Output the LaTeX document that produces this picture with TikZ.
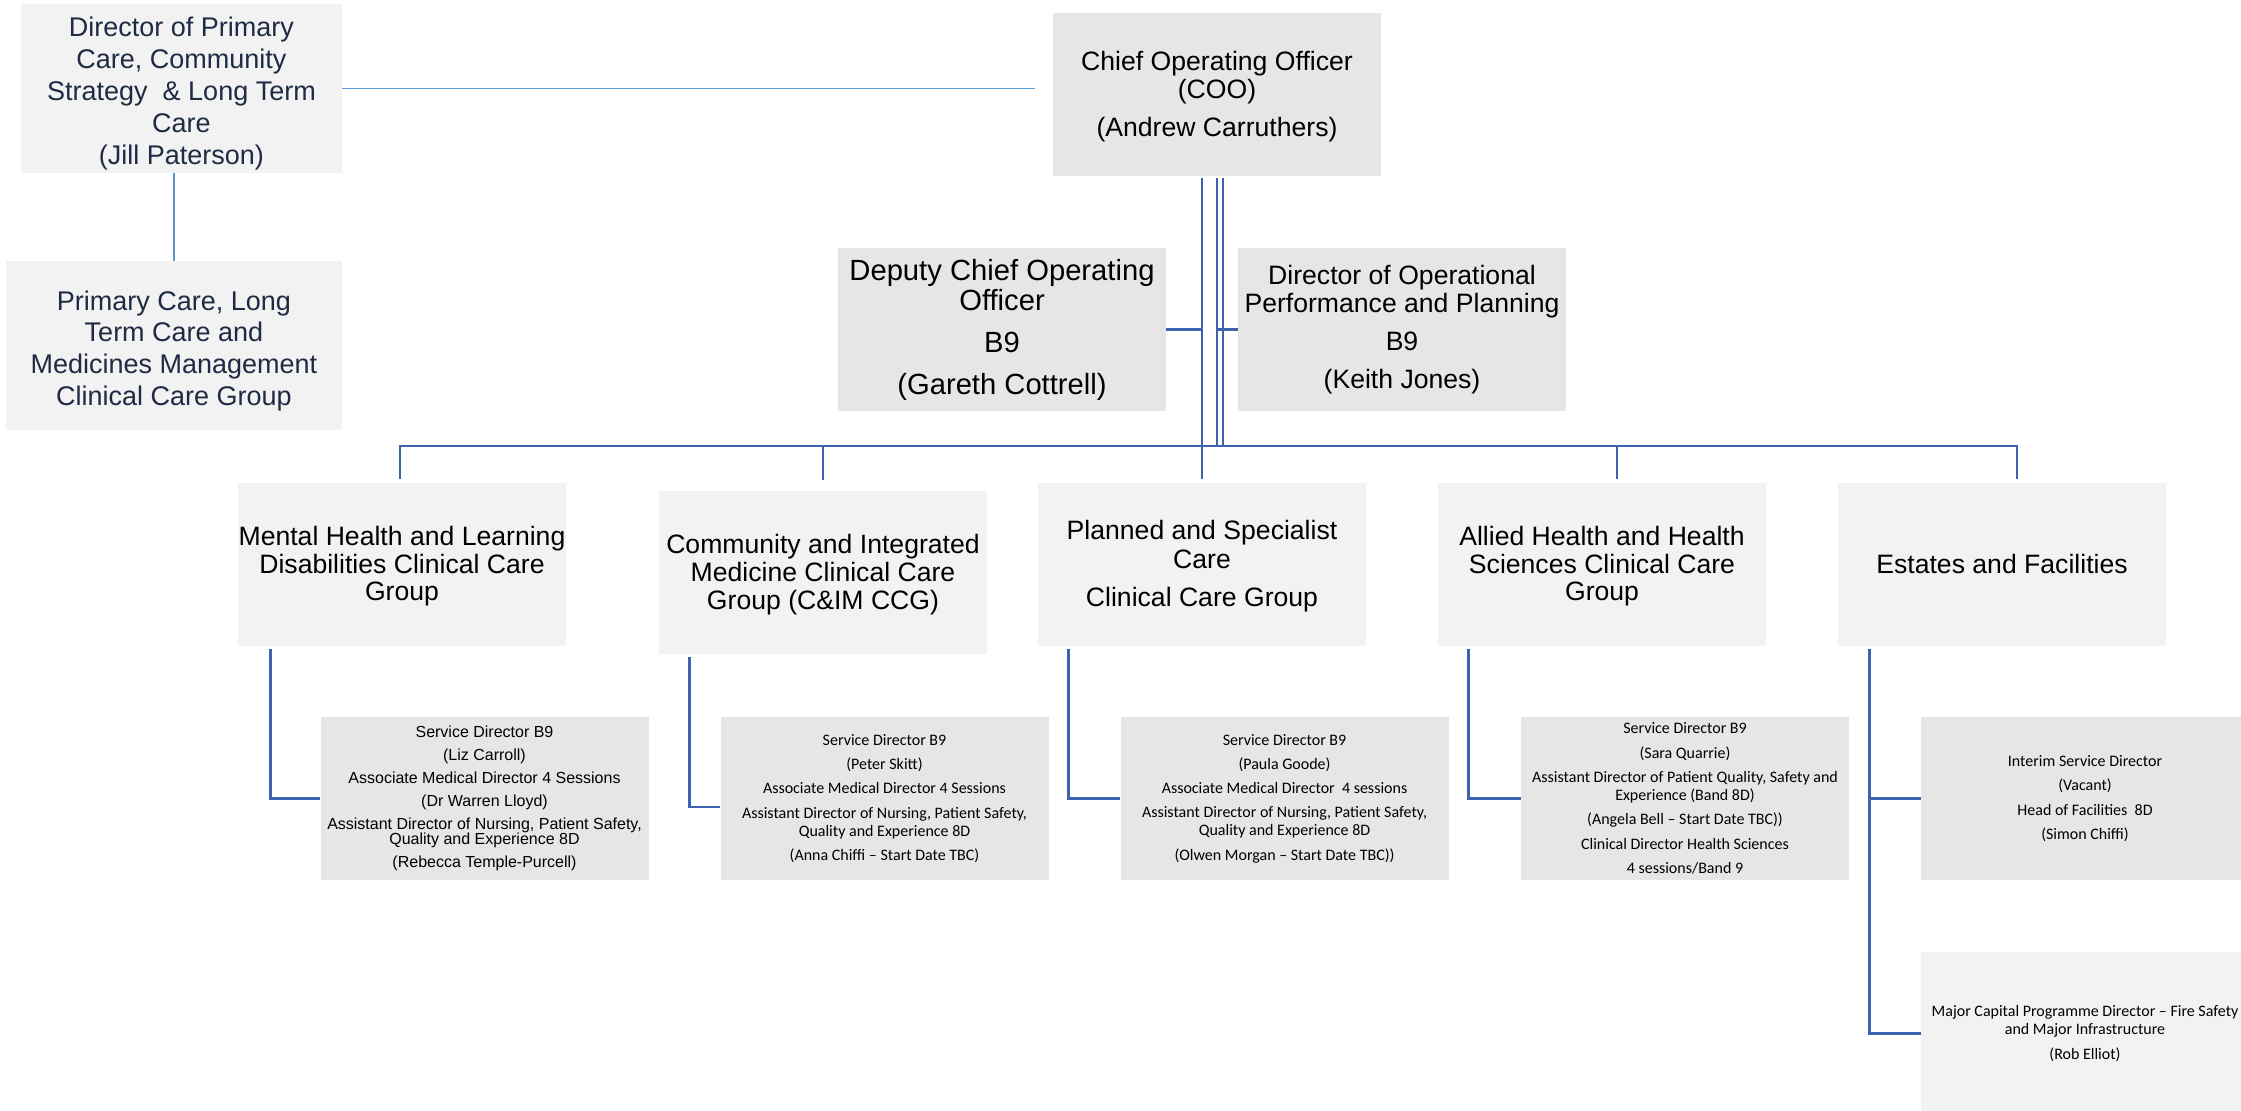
\documentclass[tikz,border=0pt]{standalone}
\usepackage{fontspec}
\setmainfont{Liberation Sans}
\newfontfamily\calib{Carlito}
\definecolor{boxlight}{HTML}{F2F2F2}
\definecolor{boxdark}{HTML}{E6E6E6}
\definecolor{linkblue}{HTML}{3D62B0}
\definecolor{thinblue}{HTML}{5B9BD5}
\definecolor{navytext}{HTML}{1F2A44}
\newcommand{\upstrut}[1]{\rule{0pt}{#1}}
\begin{document}
\begin{tikzpicture}[x=0.5pt,y=-0.5pt,
  box/.style={rectangle, inner sep=0pt, align=center, minimum width=164pt, minimum height=81.5pt},
  light/.style={box, fill=boxlight},
  dark/.style={box, fill=boxdark},
  big/.style={font=\fontsize{13.3pt}{14pt}\selectfont},
  small/.style={font=\fontsize{8pt}{7.5pt}\selectfont},
  cal/.style={font=\calib\fontsize{8pt}{9pt}\selectfont},
  conn/.style={draw=linkblue, line width=1.4pt},
  thinl/.style={draw=thinblue, line width=0.7pt}]
\clip (0,0) rectangle (2241,1110);

% top left
\node[light, minimum width=160.5pt, minimum height=84.5pt, text=navytext,
      font=\fontsize{13.5pt}{16pt}\selectfont] (dpc) at (181.5,88.5)
  {\upstrut{15pt}Director of Primary\\Care, Community\\Strategy\ \ \& Long Term\\Care\\(Jill Paterson)};
\node[light, minimum width=168pt, minimum height=84.5pt, text=navytext,
      font=\fontsize{13.5pt}{15.9pt}\selectfont] (pcg) at (174,345.5)
  {\upstrut{15pt}Primary Care, Long\\Term Care and\\Medicines Management\\Clinical Care Group};

% top
\node[dark, font=\fontsize{13.3pt}{14.2pt}\selectfont] (coo) at (1217,94.5)
  {\upstrut{11.5pt}Chief Operating Officer\\(COO)\\[4.5pt](Andrew Carruthers)};
\node[dark, font=\fontsize{14.6pt}{15pt}\selectfont] (dep) at (1002,329.5)
  {Deputy Chief Operating\\Officer\\[6pt]B9\\[6pt](Gareth Cottrell)};
\node[dark, font=\fontsize{13.3pt}{13.7pt}\selectfont] (doop) at (1402,329.5)
  {Director of Operational\\Performance and Planning\\[5.3pt]B9\\[5.3pt](Keith Jones)};

% level 2
\node[light, font=\fontsize{13.3pt}{13.75pt}\selectfont] (mh) at (402,564)
  {\upstrut{12pt}Mental Health and Learning\\Disabilities Clinical Care\\Group};
\node[light, font=\fontsize{13.3pt}{13.9pt}\selectfont] (cim) at (823,572)
  {\upstrut{12pt}Community and Integrated\\Medicine Clinical Care\\Group (C\&IM CCG)};
\node[light, font=\fontsize{13.3pt}{14.15pt}\selectfont] (psc) at (1202,564)
  {\upstrut{12pt}Planned and Specialist\\Care\\[5pt]Clinical Care Group};
\node[light, font=\fontsize{13.3pt}{13.75pt}\selectfont] (ahs) at (1602,564)
  {\upstrut{12pt}Allied Health and Health\\Sciences Clinical Care\\Group};
\node[light, big] (est) at (2002,564) {Estates and Facilities};

% level 3
\node[dark, small] (liz) at (484.5,798.5)
  {Service Director B9\\[4pt](Liz Carroll)\\[4pt]Associate Medical Director 4 Sessions\\[4pt](Dr Warren Lloyd)\\[4pt]Assistant Director of Nursing, Patient Safety,\\Quality and Experience 8D\\[4pt](Rebecca Temple-Purcell)};
\node[dark, cal] (peter) at (884.5,798.5)
  {Service Director B9\\[3.15pt](Peter Skitt)\\[3.15pt]Associate Medical Director 4 Sessions\\[3.15pt]Assistant Director of Nursing, Patient Safety,\\Quality and Experience 8D\\[3.15pt](Anna Chiffi – Start Date TBC)};
\node[dark, cal] (paula) at (1284.5,798.5)
  {Service Director B9\\[3.15pt](Paula Goode)\\[3.15pt]Associate Medical Director\ \ 4 sessions\\[3.15pt]Assistant Director of Nursing, Patient Safety,\\Quality and Experience 8D\\[3.15pt](Olwen Morgan – Start Date TBC))};
\node[dark, cal] (sara) at (1685,798.5)
  {Service Director B9\\[3.15pt](Sara Quarrie)\\[3.15pt]Assistant Director of Patient Quality, Safety and\\Experience (Band 8D)\\[3.15pt](Angela Bell – Start Date TBC))\\[3.15pt]Clinical Director Health Sciences\\[3.15pt]4 sessions/Band 9};
\node[dark, cal] (interim) at (2085,798.5)
  {Interim Service Director\\[3.15pt](Vacant)\\[3.15pt]Head of Facilities\ \ 8D\\[3.15pt](Simon Chiffi)};
\node[light, cal] (major) at (2085,1033.5)
  {Major Capital Programme Director – Fire Safety\\and Major Infrastructure\\[3.15pt](Rob Elliot)};

\coordinate (bus) at (1217,446);

% thin lines top left
\draw[thinl] (dpc.east) -- ([xshift=-9pt]coo.west |- dpc.east);
\draw[thinblue!80!gray, line width=0.6pt] (pcg.north |- dpc.south) -- (pcg.north);

% COO verticals
\draw[conn] ([yshift=-1pt]coo.south -| psc.north) -- ([yshift=1.5pt]psc.north);
\draw[conn] ([yshift=-1pt]coo.south) -- (coo.south |- bus);
\draw[conn] ([xshift=3pt,yshift=-1pt]coo.south) -- ([xshift=3pt]coo.south |- bus);
\draw[conn] (dep.east) -- (dep.east -| psc.north);
\draw[conn] (doop.west -| coo.south) -- (doop.west);

% bus
\draw[conn] ([xshift=-1pt,yshift=1.5pt]mh.north) |- ([xshift=7.5pt]est.north |- bus) -- ([xshift=7.5pt,yshift=1.5pt]est.north);
\draw[conn] (cim.north |- bus) -- ([yshift=5pt]cim.north);
\draw[conn] ([xshift=7.5pt]ahs.north |- bus) -- ([xshift=7.5pt,yshift=1.5pt]ahs.north);

% level 3 connectors
\draw[conn] ([xshift=16.25pt,yshift=-1.5pt]mh.south west) |- (liz.west);
\draw[conn] ([xshift=15.5pt,yshift=-1.5pt]cim.south west) |- ([yshift=-4.25pt]peter.west);
\draw[conn] ([xshift=15.5pt,yshift=-1.5pt]psc.south west) |- (paula.west);
\draw[conn] ([xshift=15.5pt,yshift=-1.5pt]ahs.south west) |- (sara.west);
\draw[conn] ([xshift=16pt,yshift=-1.5pt]est.south west) |- (major.west);
\draw[conn] ([xshift=16pt]est.south west |- interim.west) -- (interim.west);
\end{tikzpicture}
\end{document}
